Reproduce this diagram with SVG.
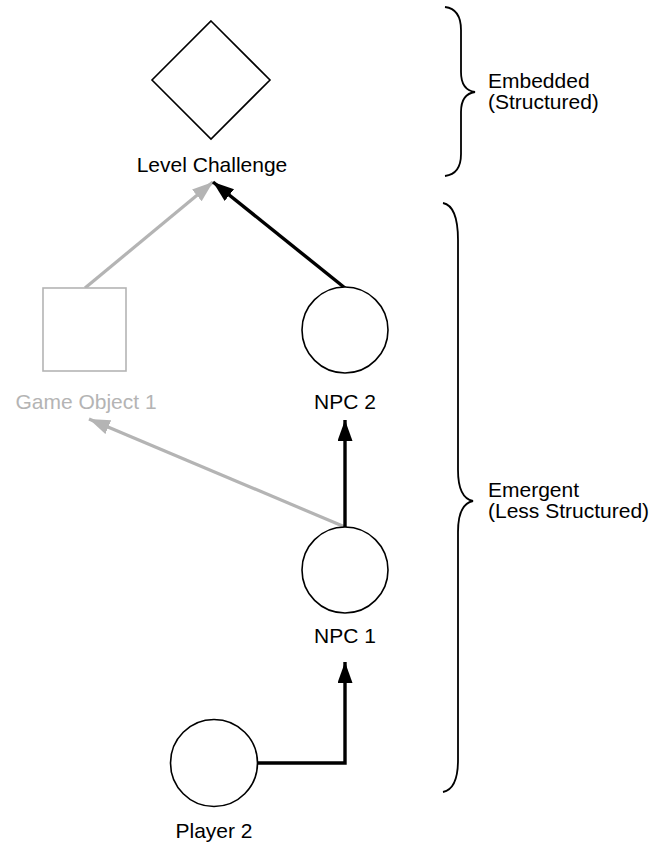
<svg xmlns="http://www.w3.org/2000/svg" width="654" height="848" viewBox="0 0 654 848">
<style>
text{font-family:"Liberation Sans",Arial,sans-serif;font-size:21px;fill:#000}
.lbl{text-anchor:middle}
.gray{fill:#b4b4b4}
.shape{fill:#fff;stroke:#000;stroke-width:1.6}
.gshape{fill:#fff;stroke:#b4b4b4;stroke-width:1.6}
.edge{fill:none;stroke:#000;stroke-width:3.4}
.gedge{fill:none;stroke:#b4b4b4;stroke-width:3.2}
.brace{fill:none;stroke:#000;stroke-width:1.8}
</style>
<defs>
<marker id="ab" markerUnits="userSpaceOnUse" markerWidth="22" markerHeight="16" refX="21" refY="7.5" orient="auto"><path d="M0,0 L21,7.5 L0,15 z" fill="#000"/></marker>
<marker id="ag" markerUnits="userSpaceOnUse" markerWidth="22" markerHeight="16" refX="21" refY="7.5" orient="auto"><path d="M0,0 L21,7.5 L0,15 z" fill="#b4b4b4"/></marker>
</defs>
<g id="connectors">
<line class="gedge" x1="85" y1="288" x2="213" y2="182" marker-end="url(#ag)"/>
<line class="edge" x1="345" y1="288" x2="213" y2="182" marker-end="url(#ab)"/>
<line class="gedge" x1="345" y1="527" x2="89" y2="419" marker-end="url(#ag)"/>
<line class="edge" x1="345" y1="527" x2="345" y2="420" marker-end="url(#ab)"/>
<polyline class="edge" points="258,763 345,763 345,662" marker-end="url(#ab)"/>
</g>
<g id="level-challenge">
<polygon class="shape" points="211,21 270,80 211,139 152,80"/>
<text class="lbl" x="212" y="172">Level Challenge</text>
</g>
<g id="game-object-1">
<rect class="gshape" x="43" y="288" width="83" height="83"/>
<text class="lbl gray" x="86" y="409">Game Object 1</text>
</g>
<g id="npc-2">
<circle class="shape" cx="345" cy="330" r="43"/>
<text class="lbl" x="345" y="409">NPC 2</text>
</g>
<g id="npc-1">
<circle class="shape" cx="345" cy="570" r="43"/>
<text class="lbl" x="345" y="643">NPC 1</text>
</g>
<g id="player-2">
<circle class="shape" cx="214" cy="763" r="43.5"/>
<text class="lbl" x="214" y="838">Player 2</text>
</g>
<g id="embedded-brace">
<path class="brace" d="M445,7 Q461,9 461,30 L461,72 Q461,90 475,92 Q461,94 461,112 L461,154 Q461,174 445,176"/>
<text x="488" y="88">Embedded</text>
<text x="488" y="109">(Structured)</text>
</g>
<g id="emergent-brace">
<path class="brace" d="M443,203 Q458,206 458,240 L458,470 Q458,498 473,501 Q458,504 458,532 L458,760 Q458,789 443,792"/>
<text x="488" y="497">Emergent</text>
<text x="488" y="518">(Less Structured)</text>
</g>
</svg>
